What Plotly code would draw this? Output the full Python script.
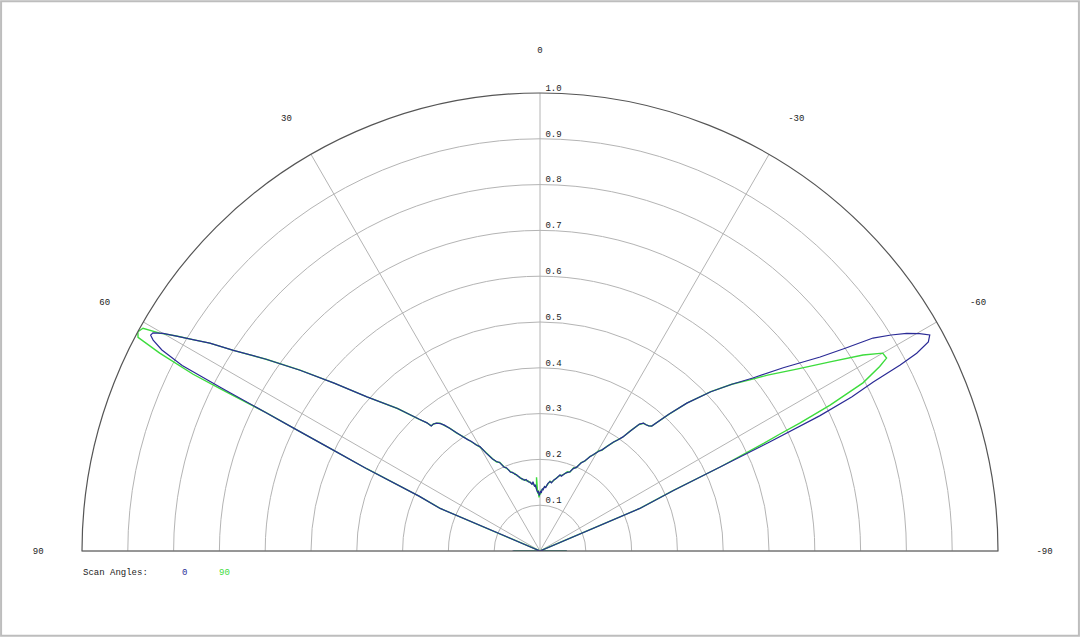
import plotly.graph_objects as go

# scan angle 0 (blue) -- theta in degrees (90 = left, -90 = right), normalised gain
theta_0 = [90, 89, 80, 70, 68, 66.9, 65.6, 64.6, 64.0, 63.5, 63.2, 62.9, 62.6, 62.0, 61.4,
           61.0, 60.6, 60.0, 59.4, 58.6, 57.8, 56.8, 55.0, 53.0, 50.8, 48.3, 45.0, 42.5,
           41.4, 41.0, 40.0, 39.0,
           38.0, 37.2, 36.3, 35.3, 34.0, 33.0, 32.0, 31.0, 29.9, 28.8, 27.3, 26.0, 24.5,
           23.2, 21.9, 20.5, 19.2, 18.0, 17.0, 15.5, 14.0, 12.5, 11.0, 9.5, 8.0, 6.8, 5.8,
           4.8, 4.0, 3.1, 2.2, 1.5, 0.8, 0.0, -0.6, -1.3, -2.2, -3.0, -4.0, -5.2, -6.5,
           -8.2, -9.5, -11.0, -12.8, -14.7, -16.0, -17.5, -19.0, -20.7, -22.0, -23.5, -25.0,
           -26.5, -27.9, -29.0, -30.5, -31.5, -32.6, -34.0, -35.0, -36.0, -37.0, -38.1,
           -39.0, -40.0, -41.0, -41.8, -43.3, -44.8, -47.0, -49.0, -50.9, -53.0,
           -55.3, -56.4, -57.4, -58.4, -59.3, -60.2, -61.0, -61.7, -62.3, -62.7, -63.1,
           -63.7, -64.2, -64.6, -65.0, -65.6, -66.9, -68, -70, -80, -89, -90]
r_0 = [0.060, 0.004, 0.002, 0.004, 0.0, 0.237, 0.29, 0.42, 0.50, 0.60, 0.67, 0.78, 0.88,
       0.935, 0.962, 0.972, 0.970, 0.950, 0.922, 0.885, 0.852, 0.800, 0.730, 0.656, 0.580,
       0.506, 0.440, 0.390, 0.373, 0.362, 0.362, 0.359,
       0.353, 0.345, 0.332, 0.318, 0.301, 0.290, 0.282, 0.270, 0.263, 0.244, 0.226, 0.218,
       0.212, 0.199, 0.196, 0.184, 0.182, 0.176, 0.174, 0.166, 0.163, 0.158, 0.159, 0.153,
       0.152, 0.146, 0.152, 0.141, 0.145, 0.133, 0.128, 0.131, 0.121, 0.126, 0.131, 0.127,
       0.136, 0.134, 0.141, 0.139, 0.148, 0.153, 0.151, 0.158, 0.163, 0.172, 0.170, 0.177,
       0.181, 0.185, 0.194, 0.199, 0.212, 0.220, 0.233, 0.241, 0.253, 0.259, 0.270, 0.287,
       0.296, 0.308, 0.328, 0.352,
       0.359, 0.360, 0.362, 0.366, 0.410, 0.455, 0.510, 0.555, 0.599, 0.665,
       0.744, 0.800, 0.863, 0.900, 0.931, 0.955, 0.973, 0.963, 0.929, 0.885, 0.816,
       0.759, 0.678, 0.555, 0.434, 0.320, 0.237, 0.0, 0.004, 0.002, 0.004, 0.059]

# scan angle 90 (green)
theta_90 = [90, 89, 80, 70, 68, 66.9, 65.6, 64.6, 64.0, 63.5, 63.2, 63.1, 63.0, 62.5, 62.0,
            61.4, 60.7, 60.2, 59.4, 58.6, 57.8, 56.8, 55.0, 53.0, 50.8, 48.3, 45.0, 42.5,
            41.4, 41.0, 40.0, 39.0,
            38.0, 37.2, 36.3, 35.3, 34.0, 33.0, 32.0, 31.0, 29.9, 28.8, 27.3, 26.0, 24.5,
            23.2, 21.9, 20.5, 19.2, 18.0, 17.0, 15.5, 14.0, 12.5, 11.0, 9.5, 8.0, 6.8, 5.8,
            4.8, 4.0, 3.1, 2.7, 2.3, 1.8, 1.0, 0.0, -0.6, -1.3, -2.2, -3.0, -4.0, -5.2, -6.5,
            -8.2, -9.5, -11.0, -12.8, -14.7, -16.0, -17.5, -19.0, -20.7, -22.0, -23.5, -25.0,
            -26.5, -27.9, -29.0, -30.5, -31.5, -32.6, -34.0, -35.0, -36.0, -37.0, -38.1,
            -39.0, -40.0, -41.0, -41.8, -43.3, -44.8, -47.0, -49.0, -50.8, -52.3, -54.7,
            -56.9, -58.75, -60.0, -60.9, -61.5, -62.5, -63.3, -63.8, -64.0, -64.3, -65.0,
            -65.6, -66.9, -68, -70, -80, -89, -90]
r_90 = [0.058, 0.004, 0.002, 0.004, 0.0, 0.237, 0.29, 0.42, 0.50, 0.60, 0.67, 0.78, 0.85,
        0.936, 0.994, 1.0, 0.994, 0.957, 0.922, 0.885, 0.852, 0.800, 0.730, 0.656, 0.580,
        0.506, 0.440, 0.390, 0.373, 0.362, 0.362, 0.359,
        0.354, 0.343, 0.333, 0.316, 0.302, 0.291, 0.280, 0.271, 0.261, 0.246, 0.227, 0.216,
        0.213, 0.200, 0.194, 0.186, 0.180, 0.178, 0.172, 0.168, 0.161, 0.160, 0.156, 0.155,
        0.150, 0.148, 0.149, 0.143, 0.143, 0.136, 0.161, 0.125, 0.133, 0.117, 0.129, 0.124,
        0.133, 0.134, 0.137, 0.140, 0.141, 0.146, 0.154, 0.152, 0.157, 0.164, 0.170, 0.172,
        0.176, 0.183, 0.184, 0.196, 0.198, 0.213, 0.219, 0.234, 0.240, 0.254, 0.258, 0.271,
        0.286, 0.297, 0.307, 0.329, 0.351,
        0.359, 0.360, 0.362, 0.366, 0.410, 0.455, 0.510, 0.555, 0.591, 0.628, 0.687,
        0.756, 0.825, 0.864, 0.866, 0.844, 0.795, 0.709, 0.632, 0.584, 0.543, 0.434,
        0.320, 0.237, 0.0, 0.004, 0.002, 0.004, 0.058]

angle_ticks = [90, 60, 30, 0, -30, -60, -90]
radial_ticks = [0.1, 0.2, 0.3, 0.4, 0.5, 0.6, 0.7, 0.8, 0.9, 1.0]

mono = "Liberation Mono"
blue = "#2b2b96"
green = "#3ddc3d"

fig = go.Figure()
fig.add_trace(go.Scatterpolar(r=r_90, theta=theta_90, mode="lines", name="90",
                              line=dict(color=green, width=1.4)))
fig.add_trace(go.Scatterpolar(r=r_0, theta=theta_0, mode="lines", name="0",
                              line=dict(color=blue, width=1.2)))
# radial value labels along the 0 direction
fig.add_trace(go.Scatterpolar(r=radial_ticks, theta=[0] * len(radial_ticks), mode="text",
                              text=["\u00a0%.1f" % v for v in radial_ticks],
                              textposition="top right", cliponaxis=False,
                              textfont=dict(family=mono, size=9, color="#222"),
                              hoverinfo="skip", showlegend=False))

fig.update_layout(
    width=1080, height=637,
    margin=dict(l=0, r=0, t=0, b=0),
    paper_bgcolor="white",
    showlegend=False,
    font=dict(family=mono, size=9, color="#222"),
    polar=dict(
        domain=dict(x=[0.075, 0.925], y=[0.135, 0.854]),
        sector=[0, 180],
        bgcolor="white",
        angularaxis=dict(
            rotation=90, direction="counterclockwise",
            tickmode="array", tickvals=angle_ticks,
            ticktext=[str(a) for a in angle_ticks],
            ticks="outside", ticklen=36, tickcolor="rgba(0,0,0,0)",
            tickfont=dict(family=mono, size=9, color="#222"),
            showgrid=True, gridcolor="#b4b4b4", gridwidth=1,
            showline=True, linecolor="#555", linewidth=1.2,
        ),
        radialaxis=dict(
            range=[0, 1], tickmode="array", tickvals=radial_ticks,
            showticklabels=False, ticks="", showline=False,
            showgrid=True, gridcolor="#b4b4b4", gridwidth=1,
        ),
    ),
    annotations=[
        dict(x=0.075, y=0.1005, xref="paper", yref="paper", text="Scan Angles:",
             showarrow=False, xanchor="left", yanchor="middle",
             font=dict(family=mono, size=9, color="#222")),
        dict(x=0.1704, y=0.1005, xref="paper", yref="paper", text="0",
             showarrow=False, xanchor="center", yanchor="middle",
             font=dict(family=mono, size=9, color=blue)),
        dict(x=0.2083, y=0.1005, xref="paper", yref="paper", text="90",
             showarrow=False, xanchor="center", yanchor="middle",
             font=dict(family=mono, size=9, color=green)),
    ],
    shapes=[dict(type="rect", xref="paper", yref="paper", x0=0.001, y0=0.002, x1=0.999,
                 y1=0.998, line=dict(color="#bdbdbd", width=2))],
)

fig.write_html("out.html", config={"displayModeBar": False},
               post_script="document.body.style.margin='0';")
